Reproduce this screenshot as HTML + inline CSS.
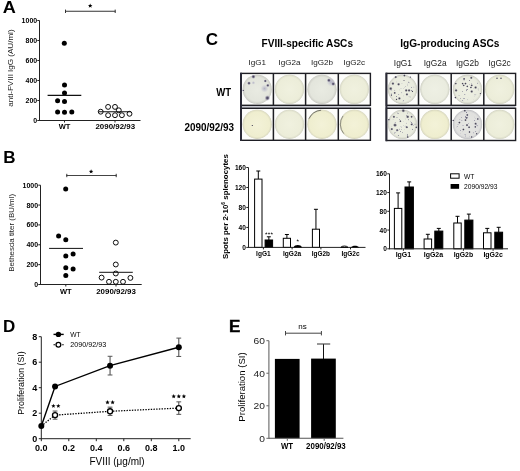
<!DOCTYPE html>
<html><head><meta charset="utf-8"><style>
html,body{margin:0;padding:0;background:#fff;}
body{width:520px;height:471px;overflow:hidden;}
svg{display:block;font-family:"Liberation Sans", sans-serif;will-change:transform;}
</style></head><body>
<svg width="520" height="471" viewBox="0 0 520 471">
<text x="2.8" y="12.6" font-size="17" font-weight="bold" text-anchor="start" fill="#000" textLength="13.1" lengthAdjust="spacingAndGlyphs">A</text>
<line x1="39.5" y1="20.5" x2="39.5" y2="121.0" stroke="#222" stroke-width="1"/>
<line x1="39.5" y1="120.5" x2="140.5" y2="120.5" stroke="#222" stroke-width="1"/>
<line x1="37.3" y1="120.5" x2="39.5" y2="120.5" stroke="#222" stroke-width="1"/>
<text x="37.2" y="120.5" font-size="7.0" font-weight="bold" text-anchor="end" dominant-baseline="central" fill="#000">0</text>
<line x1="37.3" y1="100.5" x2="39.5" y2="100.5" stroke="#222" stroke-width="1"/>
<text x="37.2" y="100.5" font-size="7.0" font-weight="bold" text-anchor="end" dominant-baseline="central" fill="#000">200</text>
<line x1="37.3" y1="80.5" x2="39.5" y2="80.5" stroke="#222" stroke-width="1"/>
<text x="37.2" y="80.5" font-size="7.0" font-weight="bold" text-anchor="end" dominant-baseline="central" fill="#000">400</text>
<line x1="37.3" y1="60.5" x2="39.5" y2="60.5" stroke="#222" stroke-width="1"/>
<text x="37.2" y="60.5" font-size="7.0" font-weight="bold" text-anchor="end" dominant-baseline="central" fill="#000">600</text>
<line x1="37.3" y1="40.5" x2="39.5" y2="40.5" stroke="#222" stroke-width="1"/>
<text x="37.2" y="40.5" font-size="7.0" font-weight="bold" text-anchor="end" dominant-baseline="central" fill="#000">800</text>
<line x1="37.3" y1="20.5" x2="39.5" y2="20.5" stroke="#222" stroke-width="1"/>
<text x="37.2" y="20.5" font-size="7.0" font-weight="bold" text-anchor="end" dominant-baseline="central" fill="#000">1000</text>
<line x1="64.5" y1="120.5" x2="64.5" y2="122.5" stroke="#222" stroke-width="1"/>
<line x1="115" y1="120.5" x2="115" y2="122.5" stroke="#222" stroke-width="1"/>
<text x="64.6" y="128.9" font-size="7.5" font-weight="bold" text-anchor="middle" fill="#000">WT</text>
<text x="115.25" y="129.0" font-size="7.6" font-weight="bold" text-anchor="middle" fill="#000" textLength="39.6" lengthAdjust="spacingAndGlyphs">2090/92/93</text>
<text x="13.2" y="68.1" font-size="7.3" text-anchor="middle" fill="#222" transform="rotate(-90 13.2 68.1)" textLength="77.3" lengthAdjust="spacingAndGlyphs">anti-FVIII IgG (AU/ml)</text>
<line x1="65.2" y1="11.3" x2="115.4" y2="11.3" stroke="#333" stroke-width="1.1"/>
<line x1="65.5" y1="9.6" x2="65.5" y2="13" stroke="#333" stroke-width="1"/>
<line x1="115.2" y1="9.6" x2="115.2" y2="13" stroke="#333" stroke-width="1"/>
<polygon points="90.20,3.40 90.82,4.95 92.48,5.06 91.20,6.12 91.61,7.74 90.20,6.85 88.79,7.74 89.20,6.12 87.92,5.06 89.58,4.95" fill="#000"/>
<circle cx="64.3" cy="43.3" r="2.5" fill="#000"/>
<circle cx="64.5" cy="85" r="2.5" fill="#000"/>
<circle cx="64.5" cy="92.9" r="2.5" fill="#000"/>
<circle cx="57.6" cy="100.8" r="2.5" fill="#000"/>
<circle cx="64.5" cy="101.5" r="2.5" fill="#000"/>
<circle cx="57.6" cy="111.9" r="2.5" fill="#000"/>
<circle cx="64.5" cy="112.2" r="2.5" fill="#000"/>
<circle cx="71.8" cy="111.9" r="2.5" fill="#000"/>
<line x1="47.6" y1="95.3" x2="81.3" y2="95.3" stroke="#111" stroke-width="1.2"/>
<circle cx="100.7" cy="111.7" r="2.45" fill="#fff" stroke="#000" stroke-width="0.95"/>
<circle cx="108.1" cy="106.9" r="2.45" fill="#fff" stroke="#000" stroke-width="0.95"/>
<circle cx="115" cy="106.9" r="2.45" fill="#fff" stroke="#000" stroke-width="0.95"/>
<circle cx="118.8" cy="110.3" r="2.45" fill="#fff" stroke="#000" stroke-width="0.95"/>
<circle cx="108.1" cy="115.2" r="2.45" fill="#fff" stroke="#000" stroke-width="0.95"/>
<circle cx="115" cy="115.2" r="2.45" fill="#fff" stroke="#000" stroke-width="0.95"/>
<circle cx="121.9" cy="115.2" r="2.45" fill="#fff" stroke="#000" stroke-width="0.95"/>
<circle cx="129.5" cy="113.8" r="2.45" fill="#fff" stroke="#000" stroke-width="0.95"/>
<line x1="98.4" y1="111.8" x2="131" y2="111.8" stroke="#111" stroke-width="1.1"/>
<text x="3.3" y="162.5" font-size="17" font-weight="bold" text-anchor="start" fill="#000">B</text>
<line x1="40.5" y1="185.2" x2="40.5" y2="285.0" stroke="#222" stroke-width="1"/>
<line x1="40.5" y1="284.5" x2="141.7" y2="284.5" stroke="#222" stroke-width="1"/>
<line x1="38.3" y1="284.5" x2="40.5" y2="284.5" stroke="#222" stroke-width="1"/>
<text x="38.1" y="284.5" font-size="7.0" font-weight="bold" text-anchor="end" dominant-baseline="central" fill="#000">0</text>
<line x1="38.3" y1="264.64" x2="40.5" y2="264.64" stroke="#222" stroke-width="1"/>
<text x="38.1" y="264.64" font-size="7.0" font-weight="bold" text-anchor="end" dominant-baseline="central" fill="#000">200</text>
<line x1="38.3" y1="244.78" x2="40.5" y2="244.78" stroke="#222" stroke-width="1"/>
<text x="38.1" y="244.78" font-size="7.0" font-weight="bold" text-anchor="end" dominant-baseline="central" fill="#000">400</text>
<line x1="38.3" y1="224.92" x2="40.5" y2="224.92" stroke="#222" stroke-width="1"/>
<text x="38.1" y="224.92" font-size="7.0" font-weight="bold" text-anchor="end" dominant-baseline="central" fill="#000">600</text>
<line x1="38.3" y1="205.06" x2="40.5" y2="205.06" stroke="#222" stroke-width="1"/>
<text x="38.1" y="205.06" font-size="7.0" font-weight="bold" text-anchor="end" dominant-baseline="central" fill="#000">800</text>
<line x1="38.3" y1="185.2" x2="40.5" y2="185.2" stroke="#222" stroke-width="1"/>
<text x="38.1" y="185.2" font-size="7.0" font-weight="bold" text-anchor="end" dominant-baseline="central" fill="#000">1000</text>
<line x1="65.8" y1="284.5" x2="65.8" y2="286.5" stroke="#222" stroke-width="1"/>
<line x1="116" y1="284.5" x2="116" y2="286.5" stroke="#222" stroke-width="1"/>
<text x="65.8" y="293.6" font-size="7.5" font-weight="bold" text-anchor="middle" fill="#000">WT</text>
<text x="116.0" y="293.6" font-size="7.6" font-weight="bold" text-anchor="middle" fill="#000" textLength="39.6" lengthAdjust="spacingAndGlyphs">2090/92/93</text>
<text x="13.9" y="232.8" font-size="7.4" text-anchor="middle" fill="#222" transform="rotate(-90 13.9 232.8)" textLength="77.8" lengthAdjust="spacingAndGlyphs">Bethesda titer (BU/ml)</text>
<line x1="66.3" y1="175.5" x2="116.5" y2="175.5" stroke="#444" stroke-width="1.2"/>
<line x1="66.8" y1="173.8" x2="66.8" y2="177.2" stroke="#333" stroke-width="1"/>
<line x1="116.2" y1="173.8" x2="116.2" y2="177.2" stroke="#333" stroke-width="1"/>
<polygon points="91.10,169.30 91.69,170.79 93.29,170.89 92.05,171.91 92.45,173.46 91.10,172.60 89.75,173.46 90.15,171.91 88.91,170.89 90.51,170.79" fill="#000"/>
<circle cx="65.7" cy="189.1" r="2.5" fill="#000"/>
<circle cx="58.6" cy="236.1" r="2.5" fill="#000"/>
<circle cx="65.8" cy="239.7" r="2.5" fill="#000"/>
<circle cx="65.8" cy="255.9" r="2.5" fill="#000"/>
<circle cx="73.1" cy="254.1" r="2.5" fill="#000"/>
<circle cx="65.8" cy="267.7" r="2.5" fill="#000"/>
<circle cx="73.1" cy="269.1" r="2.5" fill="#000"/>
<circle cx="65.8" cy="275.4" r="2.5" fill="#000"/>
<line x1="49.1" y1="248.4" x2="83" y2="248.4" stroke="#111" stroke-width="1"/>
<circle cx="115.8" cy="242.6" r="2.45" fill="#fff" stroke="#000" stroke-width="0.95"/>
<circle cx="115.8" cy="264.5" r="2.45" fill="#fff" stroke="#000" stroke-width="0.95"/>
<circle cx="115.8" cy="273.5" r="2.45" fill="#fff" stroke="#000" stroke-width="0.95"/>
<circle cx="101.6" cy="277.6" r="2.45" fill="#fff" stroke="#000" stroke-width="0.95"/>
<circle cx="109" cy="281.8" r="2.45" fill="#fff" stroke="#000" stroke-width="0.95"/>
<circle cx="115.8" cy="281.8" r="2.45" fill="#fff" stroke="#000" stroke-width="0.95"/>
<circle cx="123" cy="281.8" r="2.45" fill="#fff" stroke="#000" stroke-width="0.95"/>
<circle cx="130.4" cy="277.9" r="2.45" fill="#fff" stroke="#000" stroke-width="0.95"/>
<line x1="99.2" y1="272.3" x2="132.8" y2="272.3" stroke="#111" stroke-width="1"/>
<text x="205.8" y="45.0" font-size="17" font-weight="bold" text-anchor="start" fill="#000">C</text>
<text x="307.25" y="46.9" font-size="10.5" font-weight="bold" text-anchor="middle" fill="#000" textLength="91.5" lengthAdjust="spacingAndGlyphs">FVIII-specific ASCs</text>
<text x="449.8" y="46.9" font-size="10.5" font-weight="bold" text-anchor="middle" fill="#000" textLength="99.2" lengthAdjust="spacingAndGlyphs">IgG-producing ASCs</text>
<text x="257.2" y="62.5" font-size="8.1" text-anchor="middle" dominant-baseline="central" fill="#1a1a1a">IgG1</text>
<text x="402.90000000000003" y="62.6" font-size="8.4" text-anchor="middle" dominant-baseline="central" fill="#1a1a1a">IgG1</text>
<text x="289.6" y="62.5" font-size="8.1" text-anchor="middle" dominant-baseline="central" fill="#1a1a1a">IgG2a</text>
<text x="435.2" y="62.6" font-size="8.4" text-anchor="middle" dominant-baseline="central" fill="#1a1a1a">IgG2a</text>
<text x="321.95000000000005" y="62.5" font-size="8.1" text-anchor="middle" dominant-baseline="central" fill="#1a1a1a">IgG2b</text>
<text x="467.40000000000003" y="62.6" font-size="8.4" text-anchor="middle" dominant-baseline="central" fill="#1a1a1a">IgG2b</text>
<text x="354.25" y="62.5" font-size="8.1" text-anchor="middle" dominant-baseline="central" fill="#1a1a1a">IgG2c</text>
<text x="499.59999999999997" y="62.6" font-size="8.4" text-anchor="middle" dominant-baseline="central" fill="#1a1a1a">IgG2c</text>
<text x="231.2" y="95.5" font-size="10.5" font-weight="bold" text-anchor="end" fill="#000" textLength="14.9" lengthAdjust="spacingAndGlyphs">WT</text>
<text x="234.1" y="131.1" font-size="10.4" font-weight="bold" text-anchor="end" fill="#000" textLength="49.6" lengthAdjust="spacingAndGlyphs">2090/92/93</text>
<defs>
<radialGradient id="gW" cx="0.5" cy="0.5" r="0.5"><stop offset="0" stop-color="#e9ebe2"/><stop offset="0.82" stop-color="#e3e5dc"/><stop offset="0.95" stop-color="#d3d4cc"/><stop offset="1" stop-color="#c4c5bf"/></radialGradient>
<radialGradient id="gC" cx="0.5" cy="0.5" r="0.5"><stop offset="0" stop-color="#f0f1df"/><stop offset="0.85" stop-color="#ecedd9"/><stop offset="0.96" stop-color="#dddecb"/><stop offset="1" stop-color="#cbccbb"/></radialGradient>
<radialGradient id="gY" cx="0.5" cy="0.5" r="0.5"><stop offset="0" stop-color="#f3f2d8"/><stop offset="0.85" stop-color="#efeecf"/><stop offset="0.96" stop-color="#e0dfc4"/><stop offset="1" stop-color="#cccbb2"/></radialGradient>
<radialGradient id="gG" cx="0.5" cy="0.5" r="0.5"><stop offset="0" stop-color="#eef0e3"/><stop offset="0.85" stop-color="#e9ebde"/><stop offset="0.96" stop-color="#d4d5ca"/><stop offset="1" stop-color="#bcbdb5"/></radialGradient>
<radialGradient id="gS"><stop offset="0" stop-color="#3e3b48"/><stop offset="0.35" stop-color="#4e4b5e" stop-opacity="0.85"/><stop offset="1" stop-color="#9a98aa" stop-opacity="0"/></radialGradient>
<radialGradient id="gL" cx="0.5" cy="0.5" r="0.5"><stop offset="0" stop-color="#e6e7e2"/><stop offset="0.85" stop-color="#e0e0de"/><stop offset="0.96" stop-color="#cacacc"/><stop offset="1" stop-color="#b4b4b8"/></radialGradient>
<radialGradient id="gV" cx="0.5" cy="0.5" r="0.5"><stop offset="0" stop-color="#eef0e4"/><stop offset="0.85" stop-color="#eaecdf"/><stop offset="0.96" stop-color="#d8dacd"/><stop offset="1" stop-color="#c6c8bc"/></radialGradient>
<radialGradient id="gT"><stop offset="0" stop-color="#5e5a78" stop-opacity="0.75"/><stop offset="1" stop-color="#8e8ca8" stop-opacity="0"/></radialGradient>
<radialGradient id="gP"><stop offset="0" stop-color="#38344a"/><stop offset="0.4" stop-color="#585270" stop-opacity="0.8"/><stop offset="1" stop-color="#a8a4c0" stop-opacity="0"/></radialGradient>
<radialGradient id="gH"><stop offset="0" stop-color="#8a88b0" stop-opacity="0.55"/><stop offset="1" stop-color="#a8a6c8" stop-opacity="0"/></radialGradient>
</defs>
<rect x="241" y="105.3" width="129.39999999999998" height="3.0" fill="#c6c8d0"/>
<rect x="241" y="73.4" width="129.39999999999998" height="31.89999999999999" fill="#fdfdfb"/>
<circle cx="257.2" cy="89.35" r="14.6" fill="url(#gW)"/>
<circle cx="264.5" cy="88.6" r="4" fill="url(#gH)"/>
<circle cx="253.4" cy="76.7" r="2.32" fill="url(#gP)"/>
<circle cx="249" cy="83.2" r="2.03" fill="url(#gP)"/>
<circle cx="253.4" cy="82.8" r="1.885" fill="url(#gH)"/>
<circle cx="265.3" cy="81" r="1.74" fill="url(#gP)"/>
<circle cx="267.8" cy="85.4" r="1.885" fill="url(#gP)"/>
<circle cx="267.4" cy="98" r="2.9" fill="url(#gP)"/>
<circle cx="243.2" cy="90.4" r="1.16" fill="url(#gP)"/>
<circle cx="289.5" cy="89.35" r="14.6" fill="url(#gC)"/>
<circle cx="321.95000000000005" cy="89.35" r="14.6" fill="url(#gW)"/>
<circle cx="331" cy="82" r="4.5" fill="url(#gH)"/>
<circle cx="328.9" cy="80.3" r="2.175" fill="url(#gP)"/>
<circle cx="333.2" cy="83.9" r="2.175" fill="url(#gP)"/>
<circle cx="354.35" cy="89.35" r="14.6" fill="url(#gC)"/>
<line x1="273.4" y1="73.4" x2="273.4" y2="105.3" stroke="#1e1e24" stroke-width="1.5"/>
<line x1="305.6" y1="73.4" x2="305.6" y2="105.3" stroke="#1e1e24" stroke-width="1.5"/>
<line x1="338.3" y1="73.4" x2="338.3" y2="105.3" stroke="#1e1e24" stroke-width="1.5"/>
<rect x="241" y="73.4" width="129.39999999999998" height="31.89999999999999" fill="none" stroke="#1e1e24" stroke-width="1.4"/>
<rect x="241" y="108.3" width="129.39999999999998" height="32.000000000000014" fill="#fdfdfb"/>
<circle cx="257.2" cy="124.30000000000001" r="14.6" fill="url(#gY)"/>
<circle cx="252.2" cy="125.5" r="1.015" fill="url(#gS)"/>
<circle cx="289.5" cy="124.30000000000001" r="14.6" fill="url(#gC)"/>
<circle cx="321.95000000000005" cy="124.30000000000001" r="14.6" fill="url(#gY)"/>
<circle cx="354.35" cy="124.30000000000001" r="14.6" fill="url(#gY)"/>
<line x1="273.4" y1="108.3" x2="273.4" y2="140.3" stroke="#1e1e24" stroke-width="1.5"/>
<line x1="305.6" y1="108.3" x2="305.6" y2="140.3" stroke="#1e1e24" stroke-width="1.5"/>
<line x1="338.3" y1="108.3" x2="338.3" y2="140.3" stroke="#1e1e24" stroke-width="1.5"/>
<rect x="241" y="108.3" width="129.39999999999998" height="32.000000000000014" fill="none" stroke="#1e1e24" stroke-width="1.4"/>
<line x1="241" y1="72.7" x2="241" y2="141.0" stroke="#2a2a36" stroke-width="2"/>
<path d="M309.17 118.34 A14.1 14.1 0 0 1 320.72 110.25" fill="none" stroke="#55554f" stroke-width="0.8" stroke-linecap="round"/>
<path d="M343.55 133.36 A14.1 14.1 0 0 1 342.80 116.21" fill="none" stroke="#6a6a62" stroke-width="0.7" stroke-linecap="round"/>
<rect x="386.4" y="105.3" width="129.20000000000005" height="3.0" fill="#c6c8d0"/>
<rect x="386.4" y="73.4" width="129.20000000000005" height="31.89999999999999" fill="#fdfdfb"/>
<circle cx="402.45" cy="89.35" r="14.6" fill="url(#gG)"/>
<circle cx="395.7" cy="77.1" r="1.62" fill="url(#gS)"/>
<circle cx="404.4" cy="75.6" r="1.4850000000000003" fill="url(#gS)"/>
<circle cx="410.2" cy="77.1" r="1.08" fill="url(#gS)"/>
<circle cx="392.9" cy="83.6" r="1.7550000000000001" fill="url(#gS)"/>
<circle cx="398.6" cy="84.3" r="1.7550000000000001" fill="url(#gS)"/>
<circle cx="390.7" cy="88.6" r="2.0250000000000004" fill="url(#gS)"/>
<circle cx="394.7" cy="92.9" r="1.4850000000000003" fill="url(#gS)"/>
<circle cx="391.4" cy="95.1" r="1.08" fill="url(#gS)"/>
<circle cx="399.4" cy="98.4" r="1.7550000000000001" fill="url(#gS)"/>
<circle cx="396.5" cy="99.4" r="1.215" fill="url(#gS)"/>
<circle cx="406.2" cy="90.4" r="1.7550000000000001" fill="url(#gS)"/>
<circle cx="409.1" cy="90.4" r="1.7550000000000001" fill="url(#gS)"/>
<circle cx="406.9" cy="94.4" r="1.62" fill="url(#gS)"/>
<circle cx="404" cy="80.7" r="0.945" fill="url(#gS)"/>
<circle cx="412.4" cy="91.5" r="1.08" fill="url(#gS)"/>
<circle cx="409.5943654744153" cy="82.87672564348554" r="0.7477175435459704" fill="url(#gT)"/>
<circle cx="401.73727661971844" cy="92.78982431806907" r="0.8943616755677566" fill="url(#gT)"/>
<circle cx="411.39412759799677" cy="87.31917669762633" r="0.8811400412289709" fill="url(#gT)"/>
<circle cx="408.5385008085196" cy="82.21905553176131" r="0.9726353477769611" fill="url(#gT)"/>
<circle cx="391.13614652483653" cy="90.03531181983742" r="0.9695745813892553" fill="url(#gT)"/>
<circle cx="400.0301059422053" cy="81.91498492826534" r="0.7110582877913587" fill="url(#gT)"/>
<circle cx="401.4471898412643" cy="88.89530603454627" r="0.6165422251287863" fill="url(#gT)"/>
<circle cx="396.2716635385246" cy="81.96952593344221" r="0.7298017328688668" fill="url(#gT)"/>
<circle cx="411.4394493915643" cy="90.41135806631084" r="0.8211471814662228" fill="url(#gT)"/>
<circle cx="398.8173796340032" cy="94.53711018958171" r="0.8555958848476398" fill="url(#gT)"/>
<circle cx="413.9110146699865" cy="87.05267499903537" r="0.9150178466371635" fill="url(#gT)"/>
<circle cx="407.2576391603518" cy="84.08421277332295" r="0.7937903030717797" fill="url(#gT)"/>
<circle cx="403.13209551449" cy="91.2250564495638" r="0.5172629150756708" fill="url(#gT)"/>
<circle cx="396.5684993385767" cy="96.43510618885757" r="0.7071569996503871" fill="url(#gT)"/>
<circle cx="394.82518503947625" cy="90.21996903470382" r="0.8515203810328158" fill="url(#gT)"/>
<circle cx="407.36214576255816" cy="85.86757551254101" r="0.7194808150222816" fill="url(#gT)"/>
<circle cx="403.21066220624954" cy="95.96106537500364" r="0.7604692088065725" fill="url(#gT)"/>
<circle cx="400.33137737410567" cy="88.74233801155646" r="0.5147874819834535" fill="url(#gT)"/>
<circle cx="391.5871822589132" cy="94.0845522150959" r="0.991593858654837" fill="url(#gT)"/>
<circle cx="405.32959325950145" cy="86.33999215944785" r="0.5851745984278407" fill="url(#gT)"/>
<circle cx="403.05596396083706" cy="101.05191593846335" r="0.8852615699154003" fill="url(#gT)"/>
<circle cx="403.99043621124446" cy="98.00724447301374" r="0.6160880640315073" fill="url(#gT)"/>
<circle cx="403.34429157969095" cy="100.31168470670673" r="0.7888974039006016" fill="url(#gT)"/>
<circle cx="401.9782932977667" cy="83.23198693603553" r="0.7739981547331245" fill="url(#gT)"/>
<circle cx="410.09138081538475" cy="97.01214779813705" r="0.9430897904130041" fill="url(#gT)"/>
<circle cx="409.0125852958299" cy="96.72849752181199" r="0.759339141761501" fill="url(#gT)"/>
<circle cx="404.53394661945947" cy="87.15226699220375" r="0.5280616487603702" fill="url(#gT)"/>
<circle cx="412.250253879416" cy="90.7499833469095" r="0.5999197100885716" fill="url(#gT)"/>
<circle cx="403.11801168572157" cy="88.62312780569336" r="0.6783949822724779" fill="url(#gT)"/>
<circle cx="399.1519479754539" cy="89.96196989344611" r="0.8117447263987525" fill="url(#gT)"/>
<circle cx="434.85" cy="89.35" r="14.6" fill="url(#gV)"/>
<circle cx="467.5" cy="89.35" r="14.6" fill="url(#gG)"/>
<circle cx="464.1" cy="78.9" r="1.4850000000000003" fill="url(#gS)"/>
<circle cx="471.3" cy="77.8" r="1.62" fill="url(#gS)"/>
<circle cx="455.8" cy="83.6" r="1.35" fill="url(#gS)"/>
<circle cx="462.6" cy="83.6" r="1.35" fill="url(#gS)"/>
<circle cx="465.5" cy="83.6" r="1.4850000000000003" fill="url(#gS)"/>
<circle cx="463.7" cy="85.4" r="1.35" fill="url(#gS)"/>
<circle cx="467.3" cy="86.4" r="1.35" fill="url(#gS)"/>
<circle cx="471.7" cy="85.4" r="1.4850000000000003" fill="url(#gS)"/>
<circle cx="470.9" cy="87.5" r="1.35" fill="url(#gS)"/>
<circle cx="475.6" cy="87.5" r="1.7550000000000001" fill="url(#gS)"/>
<circle cx="456.1" cy="90.4" r="1.7550000000000001" fill="url(#gS)"/>
<circle cx="471.7" cy="91.5" r="1.7550000000000001" fill="url(#gS)"/>
<circle cx="480.3" cy="93.7" r="1.08" fill="url(#gS)"/>
<circle cx="455.4" cy="97.6" r="1.35" fill="url(#gS)"/>
<circle cx="475.88747195323623" cy="94.89924972671308" r="0.8348652007201105" fill="url(#gT)"/>
<circle cx="462.7034114397286" cy="91.64860414196156" r="0.8034008668204189" fill="url(#gT)"/>
<circle cx="469.53010042780005" cy="80.45957175637014" r="0.7153348201456343" fill="url(#gT)"/>
<circle cx="464.8382955051343" cy="94.57530203093665" r="0.9974097814748714" fill="url(#gT)"/>
<circle cx="478.7348868273311" cy="90.10442618573302" r="0.7224270943629267" fill="url(#gT)"/>
<circle cx="455.68612142727045" cy="88.1223465524328" r="0.6592325639268387" fill="url(#gT)"/>
<circle cx="464.50037304751777" cy="98.79473644570719" r="0.7628763845730142" fill="url(#gT)"/>
<circle cx="469.0127590256625" cy="82.40308517787655" r="0.511929039570391" fill="url(#gT)"/>
<circle cx="463.128573219029" cy="79.91743482466167" r="0.7551119229186005" fill="url(#gT)"/>
<circle cx="474.918998035541" cy="94.86004229734945" r="0.9532968249487805" fill="url(#gT)"/>
<circle cx="474.07213709582675" cy="96.24369093654408" r="0.6768934889208018" fill="url(#gT)"/>
<circle cx="459.0296163326005" cy="95.3501017912968" r="0.8575754491187267" fill="url(#gT)"/>
<circle cx="466.5351674435494" cy="89.75889290308612" r="0.7450069609250957" fill="url(#gT)"/>
<circle cx="478.12080180236427" cy="89.02102656576638" r="0.9157622448959062" fill="url(#gT)"/>
<circle cx="463.8481051217179" cy="98.57127296453133" r="0.9498502943783129" fill="url(#gT)"/>
<circle cx="466.52530412204095" cy="90.6926267605061" r="0.9601652195959645" fill="url(#gT)"/>
<circle cx="473.0943238468005" cy="88.66521387153962" r="0.6109055054955055" fill="url(#gT)"/>
<circle cx="463.11668109422243" cy="93.98929095175609" r="0.5830348427470631" fill="url(#gT)"/>
<circle cx="477.6985124156524" cy="83.2034378224954" r="0.9556889179340233" fill="url(#gT)"/>
<circle cx="462.73907812373653" cy="100.43404278890395" r="0.8531029031838023" fill="url(#gT)"/>
<circle cx="467.60622042458294" cy="89.44369390371381" r="0.8257071994833953" fill="url(#gT)"/>
<circle cx="469.6986177948621" cy="84.296108113775" r="0.6039092372689636" fill="url(#gT)"/>
<circle cx="467.79729145888206" cy="99.85385897834446" r="0.8116325433629361" fill="url(#gT)"/>
<circle cx="473.1487321869325" cy="99.19134052378303" r="0.5957013666520588" fill="url(#gT)"/>
<circle cx="471.32274818586376" cy="83.32749330842873" r="0.6133082646223815" fill="url(#gT)"/>
<circle cx="468.05906663397326" cy="97.8485751796218" r="0.6224159889845085" fill="url(#gT)"/>
<circle cx="460.26197346739116" cy="98.514543984157" r="0.7114588241948481" fill="url(#gT)"/>
<circle cx="464.058922782581" cy="80.7970248031433" r="0.8363827207067709" fill="url(#gT)"/>
<circle cx="499.70000000000005" cy="89.35" r="14.6" fill="url(#gC)"/>
<circle cx="497" cy="78.2" r="1.2" fill="url(#gS)"/>
<circle cx="501" cy="78.2" r="1.2" fill="url(#gS)"/>
<line x1="418.5" y1="73.4" x2="418.5" y2="105.3" stroke="#1e1e24" stroke-width="1.5"/>
<line x1="451.2" y1="73.4" x2="451.2" y2="105.3" stroke="#1e1e24" stroke-width="1.5"/>
<line x1="483.8" y1="73.4" x2="483.8" y2="105.3" stroke="#1e1e24" stroke-width="1.5"/>
<rect x="386.4" y="73.4" width="129.20000000000005" height="31.89999999999999" fill="none" stroke="#1e1e24" stroke-width="1.4"/>
<rect x="386.4" y="108.3" width="129.20000000000005" height="32.2" fill="#fdfdfb"/>
<circle cx="402.45" cy="124.4" r="14.6" fill="url(#gG)"/>
<circle cx="403.3" cy="110.7" r="2.0250000000000004" fill="url(#gS)"/>
<circle cx="393.9" cy="116.8" r="1.62" fill="url(#gS)"/>
<circle cx="407.7" cy="116.8" r="1.89" fill="url(#gS)"/>
<circle cx="411.6" cy="116.8" r="1.4850000000000003" fill="url(#gS)"/>
<circle cx="400.4" cy="121.2" r="1.35" fill="url(#gS)"/>
<circle cx="395" cy="125.1" r="2.16" fill="url(#gS)"/>
<circle cx="411.6" cy="124.4" r="1.4850000000000003" fill="url(#gS)"/>
<circle cx="406.9" cy="127.3" r="1.4850000000000003" fill="url(#gS)"/>
<circle cx="391.8" cy="129.1" r="1.62" fill="url(#gS)"/>
<circle cx="397.2" cy="130.2" r="1.62" fill="url(#gS)"/>
<circle cx="416.3" cy="127.3" r="1.35" fill="url(#gS)"/>
<circle cx="407.7" cy="137" r="1.35" fill="url(#gS)"/>
<circle cx="388.9" cy="119.7" r="1.215" fill="url(#gS)"/>
<circle cx="396.4491156772973" cy="125.1057306323988" r="0.6849775832740397" fill="url(#gT)"/>
<circle cx="405.5980009649049" cy="127.14300760270135" r="0.5327644296199066" fill="url(#gT)"/>
<circle cx="396.9838503582002" cy="117.35827402616741" r="0.9978224177552314" fill="url(#gT)"/>
<circle cx="402.2565876880612" cy="132.41153628185972" r="0.7381766043496675" fill="url(#gT)"/>
<circle cx="406.47670351360404" cy="115.2654106005881" r="0.8174303291425942" fill="url(#gT)"/>
<circle cx="412.20113267858244" cy="124.57953025958253" r="0.8706259281007451" fill="url(#gT)"/>
<circle cx="407.28528688423984" cy="113.10078595567494" r="0.8791151231434087" fill="url(#gT)"/>
<circle cx="405.27748957328293" cy="119.03169148789281" r="0.5155058757348749" fill="url(#gT)"/>
<circle cx="412.13818092447366" cy="123.31872721663667" r="0.8594119620329015" fill="url(#gT)"/>
<circle cx="412.47032000638706" cy="129.35323709028006" r="0.9605493337919373" fill="url(#gT)"/>
<circle cx="400.3740851000186" cy="131.5227192746307" r="0.7223105280253803" fill="url(#gT)"/>
<circle cx="401.4040466656857" cy="127.1662072716701" r="0.6505130992127527" fill="url(#gT)"/>
<circle cx="403.1810745957265" cy="121.14665647112257" r="0.6754552443850901" fill="url(#gT)"/>
<circle cx="405.1268526851341" cy="126.10629482425497" r="0.9521008854238875" fill="url(#gT)"/>
<circle cx="407.5495534158742" cy="134.7236400300004" r="0.9282002831983778" fill="url(#gT)"/>
<circle cx="394.5774905492767" cy="133.0159383279067" r="0.9823164736545307" fill="url(#gT)"/>
<circle cx="413.1173996128059" cy="125.72768758685808" r="0.8569085100870997" fill="url(#gT)"/>
<circle cx="395.77812459188993" cy="132.29019825683386" r="0.7867661761756424" fill="url(#gT)"/>
<circle cx="397.6239365496551" cy="113.08651442863074" r="0.92697124421134" fill="url(#gT)"/>
<circle cx="410.51488303143753" cy="121.76154568364773" r="0.5753826872264047" fill="url(#gT)"/>
<circle cx="397.84728117047655" cy="130.71979718193361" r="0.9363835123141007" fill="url(#gT)"/>
<circle cx="391.6047515282386" cy="126.86331321329521" r="0.5224701217480181" fill="url(#gT)"/>
<circle cx="408.4610119362129" cy="119.77385365047519" r="0.940452653623679" fill="url(#gT)"/>
<circle cx="415.0158939210835" cy="124.1355093412011" r="0.9992544726878883" fill="url(#gT)"/>
<circle cx="398.24175133690846" cy="113.4242676176353" r="0.7998814043983004" fill="url(#gT)"/>
<circle cx="400.69840339042474" cy="126.76167807418354" r="0.5780994955067824" fill="url(#gT)"/>
<circle cx="398.3457629979023" cy="135.4664856602114" r="0.9483298207138008" fill="url(#gT)"/>
<circle cx="399.94473098530455" cy="123.01024082114762" r="0.7600364922962819" fill="url(#gT)"/>
<circle cx="406.5972179596932" cy="126.39125596004926" r="0.7796305310076952" fill="url(#gT)"/>
<circle cx="406.00315338613154" cy="135.01553138559908" r="0.7535134079728298" fill="url(#gT)"/>
<circle cx="401.27978883577333" cy="129.50778130360345" r="0.618817809732392" fill="url(#gT)"/>
<circle cx="403.52818233203016" cy="125.21076169217156" r="0.5057287431821096" fill="url(#gT)"/>
<circle cx="400.8802585950971" cy="125.99913034492664" r="0.5100264451522997" fill="url(#gT)"/>
<circle cx="405.89494853265643" cy="127.30451338240289" r="0.5300402553138615" fill="url(#gT)"/>
<circle cx="406.1835277252739" cy="123.1562607424177" r="0.8396406990190544" fill="url(#gT)"/>
<circle cx="399.31442457602617" cy="129.17375623414748" r="0.8690171446260171" fill="url(#gT)"/>
<circle cx="407.4005077371844" cy="135.58263950965645" r="0.625561139091735" fill="url(#gT)"/>
<circle cx="401.90780324090946" cy="126.31679689166222" r="0.6600126928740033" fill="url(#gT)"/>
<circle cx="399.5988772334989" cy="119.31676652992277" r="0.6845769876384771" fill="url(#gT)"/>
<circle cx="405.3905376464384" cy="119.01009933413974" r="0.6885801706644584" fill="url(#gT)"/>
<circle cx="404.73145005176457" cy="129.87932954196273" r="0.6550083477050466" fill="url(#gT)"/>
<circle cx="396.06344606982975" cy="131.59519175987282" r="0.619347588448921" fill="url(#gT)"/>
<circle cx="395.18485852294856" cy="122.38085801332052" r="0.8490332033374249" fill="url(#gT)"/>
<circle cx="393.0460423157968" cy="119.5491496155316" r="0.6668768252243377" fill="url(#gT)"/>
<circle cx="411.33847228893273" cy="122.46076831403468" r="0.9277675969924433" fill="url(#gT)"/>
<circle cx="434.85" cy="124.4" r="14.6" fill="url(#gY)"/>
<circle cx="467.5" cy="124.4" r="14.6" fill="url(#gL)"/>
<circle cx="464.8" cy="110.7" r="1.4850000000000003" fill="url(#gS)"/>
<circle cx="467.3" cy="115" r="1.4850000000000003" fill="url(#gS)"/>
<circle cx="466.6" cy="117.9" r="1.35" fill="url(#gS)"/>
<circle cx="465.5" cy="120.1" r="1.4850000000000003" fill="url(#gS)"/>
<circle cx="459.4" cy="122.6" r="1.4850000000000003" fill="url(#gS)"/>
<circle cx="475.6" cy="123.7" r="1.62" fill="url(#gS)"/>
<circle cx="477.8" cy="119" r="1.35" fill="url(#gS)"/>
<circle cx="467" cy="125.1" r="1.62" fill="url(#gS)"/>
<circle cx="469.1" cy="127.3" r="1.4850000000000003" fill="url(#gS)"/>
<circle cx="463.4" cy="129.5" r="1.4850000000000003" fill="url(#gS)"/>
<circle cx="475.3" cy="126.9" r="1.35" fill="url(#gS)"/>
<circle cx="469.5" cy="132" r="1.35" fill="url(#gS)"/>
<circle cx="453.2" cy="120.4" r="1.215" fill="url(#gS)"/>
<circle cx="471.7" cy="137" r="1.215" fill="url(#gS)"/>
<circle cx="476.7" cy="133.8" r="1.215" fill="url(#gS)"/>
<circle cx="460.9012022434359" cy="114.07915085576789" r="0.6980291213053404" fill="url(#gT)"/>
<circle cx="465.0397753621269" cy="134.44887607719298" r="0.9002261757479042" fill="url(#gT)"/>
<circle cx="474.12906506263596" cy="117.04820439225794" r="0.7683400040874068" fill="url(#gT)"/>
<circle cx="461.91706608603624" cy="115.81661323213422" r="0.5530916462157651" fill="url(#gT)"/>
<circle cx="475.72300121946046" cy="131.6663086675581" r="0.9002239192714832" fill="url(#gT)"/>
<circle cx="459.835890450481" cy="119.24624893248838" r="0.813487801206565" fill="url(#gT)"/>
<circle cx="473.29736772196793" cy="132.86620894978367" r="0.9400253756805996" fill="url(#gT)"/>
<circle cx="457.167956315873" cy="126.646297092997" r="0.8358507282582366" fill="url(#gT)"/>
<circle cx="467.6488443927604" cy="115.94475435601962" r="0.7367939437925726" fill="url(#gT)"/>
<circle cx="476.6371042546271" cy="125.19097173967634" r="0.6501228697866623" fill="url(#gT)"/>
<circle cx="477.72175723536714" cy="125.80917004214729" r="0.941158619939395" fill="url(#gT)"/>
<circle cx="476.20110220559087" cy="124.20930938331878" r="0.706973021565866" fill="url(#gT)"/>
<circle cx="469.9728118047497" cy="122.27607543233268" r="0.5806603030608042" fill="url(#gT)"/>
<circle cx="462.6277899108185" cy="131.81480796586553" r="0.5216192345361242" fill="url(#gT)"/>
<circle cx="456.1580499750878" cy="127.15876863849759" r="0.6402166058081094" fill="url(#gT)"/>
<circle cx="468.36554487198555" cy="123.28100215287482" r="0.671421632711078" fill="url(#gT)"/>
<circle cx="465.3198664101831" cy="116.5667654043099" r="0.8163324908955095" fill="url(#gT)"/>
<circle cx="461.9076208739921" cy="120.3957688651838" r="0.8734713404952312" fill="url(#gT)"/>
<circle cx="463.0167225812435" cy="125.4632245895848" r="0.9521575507653288" fill="url(#gT)"/>
<circle cx="460.7217360059691" cy="130.6290560331569" r="0.8077160375643486" fill="url(#gT)"/>
<circle cx="460.93542924563315" cy="119.77667488429337" r="0.5887698467482785" fill="url(#gT)"/>
<circle cx="466.4754688042544" cy="112.57027969455049" r="0.8486459407307592" fill="url(#gT)"/>
<circle cx="465.26069202672187" cy="135.08270918382453" r="0.8102552357317645" fill="url(#gT)"/>
<circle cx="475.4481950174563" cy="118.83525634142191" r="0.5957076024043697" fill="url(#gT)"/>
<circle cx="466.1035559870294" cy="114.91094066389788" r="0.6908173173621657" fill="url(#gT)"/>
<circle cx="479.04534056017263" cy="119.78268072997966" r="0.5046982331697822" fill="url(#gT)"/>
<circle cx="474.5936418705339" cy="120.56810667313361" r="0.6451671182045927" fill="url(#gT)"/>
<circle cx="465.5988129817936" cy="116.69792104393584" r="0.5296697618894621" fill="url(#gT)"/>
<circle cx="471.92067793954516" cy="115.24101337166829" r="0.5204461833321676" fill="url(#gT)"/>
<circle cx="467.2666903925436" cy="117.72646628346908" r="0.9988182635440452" fill="url(#gT)"/>
<circle cx="458.0568314408605" cy="124.73103966059301" r="0.8868960626308089" fill="url(#gT)"/>
<circle cx="465.23303077586223" cy="136.19143461440902" r="0.7388809815115212" fill="url(#gT)"/>
<circle cx="461.04655415542686" cy="121.76556221618105" r="0.5184345924074258" fill="url(#gT)"/>
<circle cx="465.5305240384307" cy="117.71464935083607" r="0.9446502083086853" fill="url(#gT)"/>
<circle cx="475.7761779829338" cy="123.96449298927749" r="0.5158251786113007" fill="url(#gT)"/>
<circle cx="461.35984153549884" cy="117.55972810195333" r="0.6040327465993002" fill="url(#gT)"/>
<circle cx="460.78666635176813" cy="133.24273790078" r="0.5708508838899957" fill="url(#gT)"/>
<circle cx="469.1336050102219" cy="136.26426783384923" r="0.7014810329778314" fill="url(#gT)"/>
<circle cx="499.70000000000005" cy="124.4" r="14.6" fill="url(#gC)"/>
<line x1="418.5" y1="108.3" x2="418.5" y2="140.5" stroke="#1e1e24" stroke-width="1.5"/>
<line x1="451.2" y1="108.3" x2="451.2" y2="140.5" stroke="#1e1e24" stroke-width="1.5"/>
<line x1="483.8" y1="108.3" x2="483.8" y2="140.5" stroke="#1e1e24" stroke-width="1.5"/>
<rect x="386.4" y="108.3" width="129.20000000000005" height="32.2" fill="none" stroke="#1e1e24" stroke-width="1.4"/>
<line x1="386.4" y1="72.7" x2="386.4" y2="141.2" stroke="#2a2a36" stroke-width="2"/>
<line x1="258.3" y1="171.0" x2="258.3" y2="179.1" stroke="#000" stroke-width="1"/>
<line x1="256.3" y1="171.0" x2="260.3" y2="171.0" stroke="#000" stroke-width="1"/>
<rect x="254.6" y="179.1" width="7.400000000000006" height="68.30000000000001" fill="#fff" stroke="#000" stroke-width="1"/>
<line x1="268.85" y1="236.8" x2="268.85" y2="240.0" stroke="#000" stroke-width="1"/>
<line x1="266.85" y1="236.8" x2="270.85" y2="236.8" stroke="#000" stroke-width="1"/>
<rect x="265.1" y="240.0" width="7.5" height="7.400000000000006" fill="#000" stroke="#000" stroke-width="1"/>
<line x1="286.9" y1="234.5" x2="286.9" y2="238.3" stroke="#000" stroke-width="1"/>
<line x1="284.9" y1="234.5" x2="288.9" y2="234.5" stroke="#000" stroke-width="1"/>
<rect x="283.3" y="238.3" width="7.199999999999989" height="9.099999999999994" fill="#fff" stroke="#000" stroke-width="1"/>
<line x1="315.95" y1="209.3" x2="315.95" y2="229.2" stroke="#000" stroke-width="1"/>
<line x1="313.95" y1="209.3" x2="317.95" y2="209.3" stroke="#000" stroke-width="1"/>
<rect x="312.4" y="229.2" width="7.100000000000023" height="18.200000000000017" fill="#fff" stroke="#000" stroke-width="1"/>
<line x1="248.5" y1="167.5" x2="248.5" y2="247.9" stroke="#222" stroke-width="1"/>
<line x1="248.5" y1="247.4" x2="365.5" y2="247.4" stroke="#222" stroke-width="1"/>
<line x1="246.3" y1="247.4" x2="248.5" y2="247.4" stroke="#222" stroke-width="1"/>
<text x="245.9" y="247.4" font-size="6.6" font-weight="bold" text-anchor="end" dominant-baseline="central" fill="#000">0</text>
<line x1="246.3" y1="227.425" x2="248.5" y2="227.425" stroke="#222" stroke-width="1"/>
<text x="245.9" y="227.425" font-size="6.6" font-weight="bold" text-anchor="end" dominant-baseline="central" fill="#000">40</text>
<line x1="246.3" y1="207.45" x2="248.5" y2="207.45" stroke="#222" stroke-width="1"/>
<text x="245.9" y="207.45" font-size="6.6" font-weight="bold" text-anchor="end" dominant-baseline="central" fill="#000">80</text>
<line x1="246.3" y1="187.475" x2="248.5" y2="187.475" stroke="#222" stroke-width="1"/>
<text x="245.9" y="187.475" font-size="6.6" font-weight="bold" text-anchor="end" dominant-baseline="central" fill="#000">120</text>
<line x1="246.3" y1="167.5" x2="248.5" y2="167.5" stroke="#222" stroke-width="1"/>
<text x="245.9" y="167.5" font-size="6.6" font-weight="bold" text-anchor="end" dominant-baseline="central" fill="#000">160</text>
<line x1="263.4" y1="247.4" x2="263.4" y2="249.4" stroke="#222" stroke-width="1"/>
<text x="263.4" y="256.2" font-size="7.2" font-weight="bold" text-anchor="middle" fill="#000" textLength="14.57" lengthAdjust="spacingAndGlyphs">IgG1</text>
<line x1="292.1" y1="247.4" x2="292.1" y2="249.4" stroke="#222" stroke-width="1"/>
<text x="292.1" y="256.2" font-size="7.2" font-weight="bold" text-anchor="middle" fill="#000" textLength="18.21" lengthAdjust="spacingAndGlyphs">IgG2a</text>
<line x1="320.9" y1="247.4" x2="320.9" y2="249.4" stroke="#222" stroke-width="1"/>
<text x="320.9" y="256.2" font-size="7.2" font-weight="bold" text-anchor="middle" fill="#000" textLength="18.21" lengthAdjust="spacingAndGlyphs">IgG2b</text>
<line x1="350.5" y1="247.4" x2="350.5" y2="249.4" stroke="#222" stroke-width="1"/>
<text x="350.5" y="256.2" font-size="7.2" font-weight="bold" text-anchor="middle" fill="#000" textLength="18.21" lengthAdjust="spacingAndGlyphs">IgG2c</text>
<polygon points="266.25,232.05 266.61,233.00 267.63,233.05 266.84,233.69 267.10,234.67 266.25,234.12 265.40,234.67 265.66,233.69 264.87,233.05 265.89,233.00" fill="#333"/>
<polygon points="269.00,232.05 269.36,233.00 270.38,233.05 269.59,233.69 269.85,234.67 269.00,234.12 268.15,234.67 268.41,233.69 267.62,233.05 268.64,233.00" fill="#333"/>
<polygon points="271.75,232.05 272.11,233.00 273.13,233.05 272.34,233.69 272.60,234.67 271.75,234.12 270.90,234.67 271.16,233.69 270.37,233.05 271.39,233.00" fill="#333"/>
<polygon points="297.70,239.05 298.06,240.00 299.08,240.05 298.29,240.69 298.55,241.67 297.70,241.12 296.85,241.67 297.11,240.69 296.32,240.05 297.34,240.00" fill="#333"/>
<path d="M293.6 247.4 C294.5 244.2 301 244.2 301.9 247.4 Z" fill="#000"/>
<path d="M340.8 247.4 C341.8 245.6 347 245.6 348 247.4 Z" fill="#fff" stroke="#000" stroke-width="1"/>
<path d="M351 247.4 C352 245.2 358 245.2 359 247.4 Z" fill="#000"/>
<text x="227.6" y="206.6" font-size="7.9" font-weight="bold" text-anchor="middle" fill="#000" transform="rotate(-90 227.6 206.6)">Spots per 2·10<tspan dy="-2.6" font-size="5">6</tspan><tspan dy="2.6"> splenocytes</tspan></text>
<line x1="398.1" y1="192.9" x2="398.1" y2="208.4" stroke="#000" stroke-width="1"/>
<line x1="396.1" y1="192.9" x2="400.1" y2="192.9" stroke="#000" stroke-width="1"/>
<rect x="394.4" y="208.4" width="7.400000000000034" height="40.400000000000006" fill="#fff" stroke="#000" stroke-width="1"/>
<line x1="409.2" y1="181.9" x2="409.2" y2="187" stroke="#000" stroke-width="1"/>
<line x1="407.2" y1="181.9" x2="411.2" y2="181.9" stroke="#000" stroke-width="1"/>
<rect x="405" y="187" width="8.399999999999977" height="61.80000000000001" fill="#000" stroke="#000" stroke-width="1"/>
<line x1="427.85" y1="234.3" x2="427.85" y2="239" stroke="#000" stroke-width="1"/>
<line x1="425.85" y1="234.3" x2="429.85" y2="234.3" stroke="#000" stroke-width="1"/>
<rect x="424.1" y="239" width="7.5" height="9.800000000000011" fill="#fff" stroke="#000" stroke-width="1"/>
<line x1="438.8" y1="228.4" x2="438.8" y2="231.1" stroke="#000" stroke-width="1"/>
<line x1="436.8" y1="228.4" x2="440.8" y2="228.4" stroke="#000" stroke-width="1"/>
<rect x="434.8" y="231.1" width="8.0" height="17.700000000000017" fill="#000" stroke="#000" stroke-width="1"/>
<line x1="457.5" y1="216.3" x2="457.5" y2="223" stroke="#000" stroke-width="1"/>
<line x1="455.5" y1="216.3" x2="459.5" y2="216.3" stroke="#000" stroke-width="1"/>
<rect x="453.8" y="223" width="7.399999999999977" height="25.80000000000001" fill="#fff" stroke="#000" stroke-width="1"/>
<line x1="468.85" y1="214.1" x2="468.85" y2="220.1" stroke="#000" stroke-width="1"/>
<line x1="466.85" y1="214.1" x2="470.85" y2="214.1" stroke="#000" stroke-width="1"/>
<rect x="464.8" y="220.1" width="8.099999999999966" height="28.700000000000017" fill="#000" stroke="#000" stroke-width="1"/>
<line x1="487.25" y1="228.4" x2="487.25" y2="232.8" stroke="#000" stroke-width="1"/>
<line x1="485.25" y1="228.4" x2="489.25" y2="228.4" stroke="#000" stroke-width="1"/>
<rect x="483.5" y="232.8" width="7.5" height="16.0" fill="#fff" stroke="#000" stroke-width="1"/>
<line x1="498.70000000000005" y1="227.3" x2="498.70000000000005" y2="232.2" stroke="#000" stroke-width="1"/>
<line x1="496.70000000000005" y1="227.3" x2="500.70000000000005" y2="227.3" stroke="#000" stroke-width="1"/>
<rect x="494.8" y="232.2" width="7.800000000000011" height="16.600000000000023" fill="#000" stroke="#000" stroke-width="1"/>
<line x1="389.5" y1="173.8" x2="389.5" y2="249.3" stroke="#222" stroke-width="1"/>
<line x1="389.5" y1="248.8" x2="508" y2="248.8" stroke="#222" stroke-width="1"/>
<line x1="387.3" y1="248.8" x2="389.5" y2="248.8" stroke="#222" stroke-width="1"/>
<text x="386.9" y="248.8" font-size="6.6" font-weight="bold" text-anchor="end" dominant-baseline="central" fill="#000">0</text>
<line x1="387.3" y1="230.05" x2="389.5" y2="230.05" stroke="#222" stroke-width="1"/>
<text x="386.9" y="230.05" font-size="6.6" font-weight="bold" text-anchor="end" dominant-baseline="central" fill="#000">40</text>
<line x1="387.3" y1="211.3" x2="389.5" y2="211.3" stroke="#222" stroke-width="1"/>
<text x="386.9" y="211.3" font-size="6.6" font-weight="bold" text-anchor="end" dominant-baseline="central" fill="#000">80</text>
<line x1="387.3" y1="192.55" x2="389.5" y2="192.55" stroke="#222" stroke-width="1"/>
<text x="386.9" y="192.55" font-size="6.6" font-weight="bold" text-anchor="end" dominant-baseline="central" fill="#000">120</text>
<line x1="387.3" y1="173.8" x2="389.5" y2="173.8" stroke="#222" stroke-width="1"/>
<text x="386.9" y="173.8" font-size="6.6" font-weight="bold" text-anchor="end" dominant-baseline="central" fill="#000">160</text>
<line x1="403.4" y1="248.8" x2="403.4" y2="250.8" stroke="#222" stroke-width="1"/>
<text x="403.4" y="257.4" font-size="7.2" font-weight="bold" text-anchor="middle" fill="#000" textLength="15.53" lengthAdjust="spacingAndGlyphs">IgG1</text>
<line x1="433.4" y1="248.8" x2="433.4" y2="250.8" stroke="#222" stroke-width="1"/>
<text x="433.4" y="257.4" font-size="7.2" font-weight="bold" text-anchor="middle" fill="#000" textLength="19.41" lengthAdjust="spacingAndGlyphs">IgG2a</text>
<line x1="463.4" y1="248.8" x2="463.4" y2="250.8" stroke="#222" stroke-width="1"/>
<text x="463.4" y="257.4" font-size="7.2" font-weight="bold" text-anchor="middle" fill="#000" textLength="19.41" lengthAdjust="spacingAndGlyphs">IgG2b</text>
<line x1="493.1" y1="248.8" x2="493.1" y2="250.8" stroke="#222" stroke-width="1"/>
<text x="493.1" y="257.4" font-size="7.2" font-weight="bold" text-anchor="middle" fill="#000" textLength="19.41" lengthAdjust="spacingAndGlyphs">IgG2c</text>
<rect x="450.6" y="173.8" width="8.5" height="4.4" fill="#fff" stroke="#000" stroke-width="1"/>
<rect x="450.6" y="184" width="8.5" height="4.8" fill="#000"/>
<text x="464" y="176" font-size="7.4" text-anchor="start" dominant-baseline="central" fill="#000" textLength="10.4" lengthAdjust="spacingAndGlyphs">WT</text>
<text x="464" y="186.2" font-size="7.4" text-anchor="start" dominant-baseline="central" fill="#000" textLength="33.4" lengthAdjust="spacingAndGlyphs">2090/92/93</text>
<text x="3.1" y="332.1" font-size="17" font-weight="bold" text-anchor="start" fill="#000">D</text>
<line x1="41.3" y1="336.7" x2="41.3" y2="439.2" stroke="#222" stroke-width="1"/>
<line x1="41.3" y1="438.7" x2="190.7" y2="438.7" stroke="#222" stroke-width="1"/>
<line x1="38.8" y1="438.7" x2="41.3" y2="438.7" stroke="#222" stroke-width="1"/>
<text x="37.3" y="438.7" font-size="9" font-weight="bold" text-anchor="end" dominant-baseline="central" fill="#000">0</text>
<line x1="38.8" y1="413.2" x2="41.3" y2="413.2" stroke="#222" stroke-width="1"/>
<text x="37.3" y="413.2" font-size="9" font-weight="bold" text-anchor="end" dominant-baseline="central" fill="#000">2</text>
<line x1="38.8" y1="387.7" x2="41.3" y2="387.7" stroke="#222" stroke-width="1"/>
<text x="37.3" y="387.7" font-size="9" font-weight="bold" text-anchor="end" dominant-baseline="central" fill="#000">4</text>
<line x1="38.8" y1="362.2" x2="41.3" y2="362.2" stroke="#222" stroke-width="1"/>
<text x="37.3" y="362.2" font-size="9" font-weight="bold" text-anchor="end" dominant-baseline="central" fill="#000">6</text>
<line x1="38.8" y1="336.7" x2="41.3" y2="336.7" stroke="#222" stroke-width="1"/>
<text x="37.3" y="336.7" font-size="9" font-weight="bold" text-anchor="end" dominant-baseline="central" fill="#000">8</text>
<line x1="41.3" y1="438.7" x2="41.3" y2="441.2" stroke="#222" stroke-width="1"/>
<text x="41.3" y="447.6" font-size="9" font-weight="bold" text-anchor="middle" dominant-baseline="central" fill="#000">0.0</text>
<line x1="68.8" y1="438.7" x2="68.8" y2="441.2" stroke="#222" stroke-width="1"/>
<text x="68.8" y="447.6" font-size="9" font-weight="bold" text-anchor="middle" dominant-baseline="central" fill="#000">0.2</text>
<line x1="96.3" y1="438.7" x2="96.3" y2="441.2" stroke="#222" stroke-width="1"/>
<text x="96.3" y="447.6" font-size="9" font-weight="bold" text-anchor="middle" dominant-baseline="central" fill="#000">0.4</text>
<line x1="123.80000000000001" y1="438.7" x2="123.80000000000001" y2="441.2" stroke="#222" stroke-width="1"/>
<text x="123.80000000000001" y="447.6" font-size="9" font-weight="bold" text-anchor="middle" dominant-baseline="central" fill="#000">0.6</text>
<line x1="151.3" y1="438.7" x2="151.3" y2="441.2" stroke="#222" stroke-width="1"/>
<text x="151.3" y="447.6" font-size="9" font-weight="bold" text-anchor="middle" dominant-baseline="central" fill="#000">0.8</text>
<line x1="178.8" y1="438.7" x2="178.8" y2="441.2" stroke="#222" stroke-width="1"/>
<text x="178.8" y="447.6" font-size="9" font-weight="bold" text-anchor="middle" dominant-baseline="central" fill="#000">1.0</text>
<text x="117.0" y="461.6" font-size="10" text-anchor="middle" dominant-baseline="central" fill="#000">FVIII (μg/ml)</text>
<text x="24.1" y="383" font-size="9.4" text-anchor="middle" fill="#000" transform="rotate(-90 24.1 383)" textLength="63.3" lengthAdjust="spacingAndGlyphs">Proliferation (SI)</text>
<line x1="110.05" y1="356.29675" x2="110.05" y2="374.98825" stroke="#444" stroke-width="1"/>
<line x1="107.64999999999999" y1="356.29675" x2="112.45" y2="356.29675" stroke="#555" stroke-width="1"/>
<line x1="107.64999999999999" y1="374.98825" x2="112.45" y2="374.98825" stroke="#555" stroke-width="1"/>
<line x1="178.8" y1="338.10249999999996" x2="178.8" y2="356.4625" stroke="#444" stroke-width="1"/>
<line x1="176.4" y1="338.10249999999996" x2="181.20000000000002" y2="338.10249999999996" stroke="#555" stroke-width="1"/>
<line x1="176.4" y1="356.4625" x2="181.20000000000002" y2="356.4625" stroke="#555" stroke-width="1"/>
<line x1="55.05" y1="411.03249999999997" x2="55.05" y2="419.1925" stroke="#444" stroke-width="1"/>
<line x1="52.65" y1="411.03249999999997" x2="57.449999999999996" y2="411.03249999999997" stroke="#555" stroke-width="1"/>
<line x1="52.65" y1="419.1925" x2="57.449999999999996" y2="419.1925" stroke="#555" stroke-width="1"/>
<line x1="110.05" y1="407.14375" x2="110.05" y2="415.43125" stroke="#444" stroke-width="1"/>
<line x1="107.64999999999999" y1="407.14375" x2="112.45" y2="407.14375" stroke="#555" stroke-width="1"/>
<line x1="107.64999999999999" y1="415.43125" x2="112.45" y2="415.43125" stroke="#555" stroke-width="1"/>
<line x1="178.8" y1="401.85249999999996" x2="178.8" y2="414.34749999999997" stroke="#444" stroke-width="1"/>
<line x1="176.4" y1="401.85249999999996" x2="181.20000000000002" y2="401.85249999999996" stroke="#555" stroke-width="1"/>
<line x1="176.4" y1="414.34749999999997" x2="181.20000000000002" y2="414.34749999999997" stroke="#555" stroke-width="1"/>
<polyline points="41.3,425.95 55.05,415.1125 110.05,411.28749999999997 178.8,408.09999999999997" fill="none" stroke="#000" stroke-width="1.3" stroke-dasharray="1.4 1.3"/>
<polyline points="41.3,425.95 55.05,386.425 110.05,365.6425 178.8,347.28249999999997" fill="none" stroke="#000" stroke-width="1.4"/>
<circle cx="55.05" cy="415.1125" r="2.55" fill="#fff" stroke="#000" stroke-width="1.35"/>
<circle cx="110.05" cy="411.28749999999997" r="2.55" fill="#fff" stroke="#000" stroke-width="1.35"/>
<circle cx="178.8" cy="408.09999999999997" r="2.55" fill="#fff" stroke="#000" stroke-width="1.35"/>
<circle cx="41.3" cy="425.95" r="3.0" fill="#000"/>
<circle cx="55.05" cy="386.425" r="3.0" fill="#000"/>
<circle cx="110.05" cy="365.6425" r="3.0" fill="#000"/>
<circle cx="178.8" cy="347.28249999999997" r="3.0" fill="#000"/>
<polygon points="53.40,403.70 53.99,405.19 55.59,405.29 54.35,406.31 54.75,407.86 53.40,407.00 52.05,407.86 52.45,406.31 51.21,405.29 52.81,405.19" fill="#000"/>
<polygon points="58.30,403.70 58.89,405.19 60.49,405.29 59.25,406.31 59.65,407.86 58.30,407.00 56.95,407.86 57.35,406.31 56.11,405.29 57.71,405.19" fill="#000"/>
<polygon points="107.50,400.10 108.09,401.59 109.69,401.69 108.45,402.71 108.85,404.26 107.50,403.40 106.15,404.26 106.55,402.71 105.31,401.69 106.91,401.59" fill="#000"/>
<polygon points="112.60,400.10 113.19,401.59 114.79,401.69 113.55,402.71 113.95,404.26 112.60,403.40 111.25,404.26 111.65,402.71 110.41,401.69 112.01,401.59" fill="#000"/>
<polygon points="173.70,394.10 174.29,395.59 175.89,395.69 174.65,396.71 175.05,398.26 173.70,397.40 172.35,398.26 172.75,396.71 171.51,395.69 173.11,395.59" fill="#000"/>
<polygon points="178.80,394.10 179.39,395.59 180.99,395.69 179.75,396.71 180.15,398.26 178.80,397.40 177.45,398.26 177.85,396.71 176.61,395.69 178.21,395.59" fill="#000"/>
<polygon points="183.90,394.10 184.49,395.59 186.09,395.69 184.85,396.71 185.25,398.26 183.90,397.40 182.55,398.26 182.95,396.71 181.71,395.69 183.31,395.59" fill="#000"/>
<line x1="53.5" y1="334.4" x2="63.7" y2="334.4" stroke="#000" stroke-width="1.4"/>
<circle cx="58.4" cy="334.4" r="2.7" fill="#000"/>
<line x1="53.5" y1="344.7" x2="63.7" y2="344.7" stroke="#000" stroke-width="1.1" stroke-dasharray="1.5 1.4"/>
<circle cx="58.4" cy="344.7" r="2.4" fill="#fff" stroke="#000" stroke-width="1.3"/>
<text x="70.3" y="334.4" font-size="7.6" text-anchor="start" dominant-baseline="central" fill="#000" textLength="10.4" lengthAdjust="spacingAndGlyphs">WT</text>
<text x="70.3" y="344.6" font-size="7.6" text-anchor="start" dominant-baseline="central" fill="#000" textLength="35.9" lengthAdjust="spacingAndGlyphs">2090/92/93</text>
<text x="228.9" y="332.3" font-size="17" font-weight="bold" text-anchor="start" fill="#000" stroke="#000" stroke-width="0.45">E</text>
<rect x="274.9" y="358.9" width="24.7" height="79.40000000000003" fill="#000"/>
<line x1="323.5" y1="344" x2="323.5" y2="359" stroke="#111" stroke-width="1"/>
<line x1="317" y1="344" x2="330.2" y2="344" stroke="#444" stroke-width="1.1"/>
<rect x="311.1" y="358.6" width="24.7" height="79.69999999999999" fill="#000"/>
<line x1="268.9" y1="340.698" x2="268.9" y2="438.8" stroke="#666" stroke-width="1.1"/>
<line x1="268.9" y1="438.3" x2="343.4" y2="438.3" stroke="#555" stroke-width="1.1"/>
<line x1="266.4" y1="438.3" x2="268.9" y2="438.3" stroke="#666" stroke-width="1"/>
<text x="265.0" y="438.3" font-size="9.4" text-anchor="end" dominant-baseline="central" fill="#222" textLength="5.7" lengthAdjust="spacingAndGlyphs">0</text>
<line x1="266.4" y1="405.766" x2="268.9" y2="405.766" stroke="#666" stroke-width="1"/>
<text x="265.0" y="405.766" font-size="9.4" text-anchor="end" dominant-baseline="central" fill="#222" textLength="11.4" lengthAdjust="spacingAndGlyphs">20</text>
<line x1="266.4" y1="373.232" x2="268.9" y2="373.232" stroke="#666" stroke-width="1"/>
<text x="265.0" y="373.232" font-size="9.4" text-anchor="end" dominant-baseline="central" fill="#222" textLength="11.4" lengthAdjust="spacingAndGlyphs">40</text>
<line x1="266.4" y1="340.698" x2="268.9" y2="340.698" stroke="#666" stroke-width="1"/>
<text x="265.0" y="340.698" font-size="9.4" text-anchor="end" dominant-baseline="central" fill="#222" textLength="11.4" lengthAdjust="spacingAndGlyphs">60</text>
<line x1="287.3" y1="438.3" x2="287.3" y2="440.8" stroke="#666" stroke-width="1"/>
<line x1="324.2" y1="438.3" x2="324.2" y2="440.8" stroke="#666" stroke-width="1"/>
<text x="287.0" y="449.4" font-size="9.6" font-weight="bold" text-anchor="middle" fill="#000" textLength="12.2" lengthAdjust="spacingAndGlyphs">WT</text>
<text x="325.9" y="449.4" font-size="9.6" font-weight="bold" text-anchor="middle" fill="#000" textLength="39.6" lengthAdjust="spacingAndGlyphs">2090/92/93</text>
<text x="241.7" y="387" font-size="9.6" text-anchor="middle" dominant-baseline="central" fill="#000" transform="rotate(-90 241.7 387)">Proliferation (SI)</text>
<line x1="285.5" y1="333.2" x2="321.4" y2="333.2" stroke="#444" stroke-width="1"/>
<line x1="285.5" y1="331" x2="285.5" y2="335.4" stroke="#444" stroke-width="1"/>
<line x1="321.4" y1="331" x2="321.4" y2="335.4" stroke="#444" stroke-width="1"/>
<text x="302.6" y="326.6" font-size="8" text-anchor="middle" dominant-baseline="central" fill="#000">ns</text>
</svg>
</body></html>
